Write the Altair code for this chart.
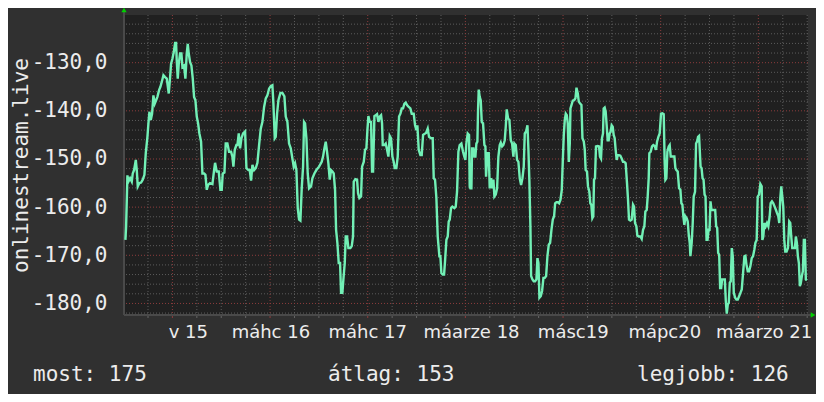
import altair as alt
import pandas as pd

# time in hours from 15 March 00:00, value (dBm-like)
hours = [-11.55,-11.38,-11.06,-10.81,-10.4,-9.99,-9.75,-9.42,-9.0,-8.76,-8.52,-8.11,-7.7,-7.29,-6.88,-6.55,-6.14,-5.9,-5.65,-5.32,-5.0,-4.67,-4.34,-4.01,-3.69,-3.28,-2.95,-2.62,-2.21,-1.8,-1.39,-0.9,-0.57,-0.33,0,0.33,0.66,0.9,1.06,1.31,1.56,1.88,2.21,2.46,2.87,3.19,3.52,3.77,4.01,4.34,4.67,5.0,5.32,5.65,5.98,6.31,6.63,7.04,7.37,7.78,8.11,8.44,8.76,9.25,9.83,10.24,10.48,10.89,11.38,11.79,12.12,12.37,12.78,13.1,13.51,13.92,14.41,14.74,14.99,15.32,15.72,
 15.97,16.3,16.63,16.96,17.37,17.86,18.19,18.68,19.0,19.33,19.66,20.07,20.48,20.89,21.3,21.71,22.12,22.53,22.94,23.34,23.75,24.16,24.57,24.82,25.15,25.39,25.72,26.05,26.54,27.03,27.52,27.85,28.26,28.67,29.08,29.49,29.81,30.14,30.47,30.8,31.13,31.45,31.78,32.11,32.35,32.6,32.93,33.25,33.58,34.07,34.4,34.89,35.38,36.04,36.69,37.02,37.35,37.68,38.0,38.33,38.66,38.99,39.32,39.64,39.97,40.22,40.54,40.87,41.2,41.44,41.77,42.02,42.35,42.59,42.92,43.25,43.74,44.07,44.39,
 44.56,44.97,45.38,45.62,45.95,46.36,46.61,47.02,47.34,47.67,47.92,48.16,48.49,48.82,49.06,49.31,49.64,49.97,50.29,50.62,50.95,51.28,51.52,51.69,52.1,52.42,52.75,53.08,53.41,53.73,54.06,54.39,54.63,55.04,55.37,55.7,56.03,56.35,56.68,57.01,57.34,57.66,58.07,58.48,58.81,59.3,59.63,59.96,60.2,60.53,60.94,61.27,61.6,61.92,62.33,62.74,63.07,63.56,63.97,64.22,64.54,64.87,65.2,65.61,65.85,66.1,66.43,66.76,67.0,67.33,67.66,67.9,68.15,68.48,68.8,69.29,69.62,69.95,70.28,70.6,71.01,71.42,71.75,72.0,72.24,72.57,72.9,73.06,
 73.23,73.48,73.64,73.97,74.21,74.46,74.7,74.95,75.11,75.28,75.52,75.77,76.02,76.34,76.67,76.92,77.08,77.41,77.74,77.98,78.31,78.56,78.89,79.13,79.46,79.79,80.11,80.44,80.69,81.02,81.34,81.67,81.92,82.16,82.49,82.82,83.15,83.48,83.8,84.05,84.38,84.7,85.03,85.36,85.69,86.02,86.34,86.59,86.92,87.25,87.49,87.74,87.98,88.15,88.48,88.8,89.13,89.46,89.7,89.95,90.2,90.52,90.85,91.18,91.51,91.84,92.16,92.49,92.82,93.15,93.48,93.8,94.05,94.38,94.7,95.03,95.36,95.69,95.93,96.18,96.43,96.67,96.92,97.16,97.41,97.66,97.82,98.07,98.39,98.72,99.05,99.3,99.62,99.87,100.2,100.52,100.77,101.1,101.34,
 101.56,101.89,102.13,102.46,102.7,102.95,103.2,103.44,103.61,103.85,104.1,104.51,104.84,105.08,105.33,105.57,105.82,105.98,106.23,106.48,106.72,106.97,107.21,107.46,107.7,107.95,108.2,108.44,108.69,108.93,109.18,109.43,109.75,110.08,110.41,110.74,111.07,111.39,111.72,111.97,112.21,112.54,112.87,113.2,113.44,113.69,114.02,114.26,114.59,115.0,115.33,115.66,115.98,116.23,116.56,116.8,117.05,117.21,117.54,117.87,118.2,118.52,118.85,119.1,119.43,119.75,120.08,120.41,120.74,120.98,121.15,121.39,121.64,121.97,122.21,122.46,122.79,123.11,123.36,123.61,123.85,124.18,124.51,124.84,125.08,125.33,125.57,125.82,126.07,126.39,126.64,126.89,127.13,127.3,127.62,127.87,128.11,128.44,128.69,128.93,129.18,129.43,
 129.8,130.04,130.29,130.53,130.78,131.02,131.27,131.51,131.76,132.0,132.24,132.49,132.73,133.06,133.39,133.63,133.88,134.12,134.37,134.61,134.86,135.1,135.43,135.76,136.0,136.24,136.49,136.73,136.98,137.22,137.47,137.71,137.96,138.29,138.61,138.94,139.27,139.59,139.92,140.24,140.57,140.82,141.06,141.39,141.71,142.04,142.37,142.69,143.02,143.27,143.59,143.84,144.16,144.49,144.82,144.98,145.22,145.47,145.8,146.12,146.45,146.78,147.02,147.35,147.67,148.0,148.33,148.57,148.9,149.14,149.39,149.63,149.88,150.12,150.37,150.61,150.94,151.27,151.59,151.84,152.08,152.33,152.65,152.98,153.22,153.47,153.71,153.96,154.2,154.45,154.69,154.94,155.18,155.43,155.67,155.92]

values = [-166.8,-164.0,-153.4,-154.7,-154.0,-154.7,-153.0,-152.3,-150.2,-152.3,-155.7,-155.0,-154.9,-154.3,-153.3,-148.8,-145.4,-142.6,-140.2,-141.9,-140.6,-136.8,-138.5,-137.8,-137.1,-135.7,-135.0,-134.0,-132.6,-133.0,-133.3,-136.4,-133.0,-130.2,-129.2,-127.8,-125.9,-125.9,-129.5,-133.3,-130.2,-128.1,-128.1,-130.9,-130.6,-133.3,-128.1,-126.1,-128.1,-129.9,-130.6,-133.3,-137.1,-137.8,-141.2,-142.6,-144.7,-146.4,-153.0,-153.0,-153.3,-156.4,-155.4,-155.0,-155.2,-152.3,-150.8,-152.6,-152.6,-156.4,-156.4,-153.0,-152.8,-146.8,-146.8,-148.5,-148.5,-149.5,-151.6,-148.1,-147.1,
 -147.1,-144.7,-147.8,-145.7,-144.7,-144.3,-151.9,-152.3,-152.3,-154.5,-151.2,-152.3,-151.9,-150.8,-147.1,-143.7,-142.3,-139.2,-137.4,-136.8,-135.4,-134.9,-134.7,-138.5,-145.7,-145.4,-140.6,-137.8,-136.3,-136.3,-137.0,-141.2,-142.3,-146.8,-147.8,-149.9,-151.6,-150.9,-152.3,-160.2,-162.6,-162.8,-156.1,-151.6,-142.3,-142.6,-145.7,-153.0,-156.1,-155.7,-154.0,-153.0,-152.3,-151.6,-150.6,-149.5,-147.8,-146.4,-148.5,-150.9,-154.3,-152.3,-152.6,-153.0,-156.4,-164.7,-167.4,-171.6,-171.6,-177.8,-177.8,-175.0,-171.6,-166.1,-166.1,-168.5,-168.5,-168.1,-166.1,
 -154.7,-154.2,-154.3,-157.1,-158.1,-157.8,-151.6,-150.6,-148.1,-147.8,-144.0,-141.1,-142.3,-142.3,-152.6,-152.6,-141.1,-140.9,-140.7,-142.3,-141.2,-140.9,-142.6,-147.1,-147.1,-146.8,-148.1,-149.5,-145.2,-145.7,-149.5,-150.6,-151.9,-151.9,-149.5,-141.2,-140.6,-139.5,-139.5,-138.5,-138.3,-138.8,-139.2,-139.5,-140.6,-140.6,-143.0,-144.0,-143.0,-148.1,-149.2,-149.2,-145.0,-144.8,-144.6,-143.7,-145.4,-145.7,-145.7,-154.0,-154.3,-158.1,-166.1,-170.2,-170.2,-173.7,-174.0,-174.0,-171.2,-166.8,-166.1,-163.0,-162.6,-160.2,-159.9,-160.2,-159.9,-156.8,-148.5,-147.1,-146.8,-148.5,-149.5,-150.2,-146.8,-144.7,-145.0,-155.7,
 -156.1,-156.1,-147.8,-147.8,-149.5,-149.5,-146.8,-146.4,-139.9,-135.6,-137.1,-137.8,-142.3,-142.6,-147.1,-147.4,-153.7,-148.8,-148.8,-156.1,-154.0,-156.1,-154.3,-157.8,-157.4,-156.1,-149.5,-147.1,-146.6,-147.4,-147.1,-146.1,-143.3,-139.7,-141.6,-141.9,-146.1,-146.8,-149.5,-146.8,-147.1,-150.2,-150.6,-154.0,-155.4,-154.0,-151.6,-144.7,-144.3,-143.0,-148.1,-155.0,-164.0,-174.3,-175.0,-175.4,-175.4,-175.0,-170.6,-171.6,-178.8,-178.5,-177.4,-174.7,-174.7,-174.3,-170.2,-167.8,-167.4,-164.7,-162.6,-161.9,-159.2,-159.0,-159.0,-159.2,-158.5,-156.4,-150.6,-145.0,-141.9,-140.6,-140.9,-142.6,-150.6,-146.8,-139.5,-138.8,-137.9,-137.8,-137.4,-135.2,-136.4,-138.1,-138.5,-138.8,-145.7,-146.4,-148.1,
 -152.3,-152.6,-155.7,-156.8,-159.2,-159.5,-162.3,-161.9,-154.3,-154.0,-147.4,-147.3,-147.4,-149.5,-149.9,-145.7,-144.7,-139.5,-139.3,-140.2,-143.0,-146.1,-146.1,-144.7,-144.3,-143.0,-143.3,-145.0,-145.7,-148.1,-150.2,-149.2,-149.2,-149.3,-149.9,-150.6,-150.6,-150.9,-155.0,-158.5,-162.6,-162.8,-162.6,-159.5,-159.9,-163.3,-164.0,-165.9,-166.1,-166.1,-166.6,-164.7,-164.0,-160.9,-160.6,-157.8,-154.0,-148.8,-148.5,-147.4,-147.1,-147.3,-148.1,-146.4,-145.4,-144.7,-140.6,-140.5,-140.7,-150.9,-154.3,-154.0,-148.5,-147.4,-147.1,-149.5,-149.5,-149.5,-149.5,-151.9,-152.3,-152.6,-156.1,-156.4,-159.2,-159.5,-161.9,-163.7,-161.9,-162.3,-163.0,-165.7,-167.4,-170.2,-167.4,-163.3,-157.8,-156.8,-146.8,-146.4,-145.4,-145.2,
 -151.6,-151.9,-154.0,-154.3,-157.4,-157.8,-166.8,-166.8,-164.7,-164.7,-158.8,-160.6,-160.6,-160.6,-160.6,-164.0,-164.3,-169.5,-169.9,-176.8,-176.8,-175.0,-175.0,-175.0,-179.5,-182.1,-180.2,-179.9,-175.7,-175.4,-168.5,-170.2,-177.8,-178.8,-179.2,-179.2,-178.5,-177.8,-177.1,-173.7,-170.2,-170.1,-171.9,-173.3,-173.3,-172.3,-170.6,-170.2,-168.8,-167.4,-166.8,-157.8,-157.4,-155.2,-155.7,-166.8,-166.1,-163.3,-164.0,-163.3,-164.0,-161.9,-159.2,-158.8,-159.2,-159.9,-160.6,-161.2,-161.9,-163.3,-158.1,-155.7,-157.8,-159.9,-166.8,-169.2,-169.2,-168.5,-163.0,-163.3,-166.1,-168.5,-168.5,-168.5,-166.1,-167.4,-170.2,-171.6,-176.4,-175.7,-174.3,-173.3,-166.8,-166.8,-175.0,-175.2]

x_label_hours = [3.9, 24.2, 48.0, 73.5, 98.5, 121.0, 145.4]
x_label_text = ["v 15", "máhc 16", "máhc 17", "máarze 18", "másc19", "mápc20", "máarzo 21"]
y_tick_values = [-130, -140, -150, -160, -170, -180]
footer_text = ["most: 175", "átlag: 153", "legjobb: 126"]

W, H = 684, 300
BG = "#303030"
PLOT_BG = "#202020"
LINE = "#72f0b6"
TXT = "#ececec"
GRID = "#5c5c5c"
MAJOR = "#8c3c3c"
ARROW = "#00d000"

xs = alt.Scale(domain=[-11.9, 156.2], nice=False, zero=False)
ys = alt.Scale(domain=[-182.4, -120.1], nice=False, zero=False)

df = pd.DataFrame({"h": hours, "v": values})
minor_x = pd.DataFrame({"h": [h for h in range(-6, 157, 6) if h % 24 != 0]})
major_x = pd.DataFrame({"h": list(range(0, 157, 24))})
minor_y = pd.DataFrame({"v": [v for v in range(-182, -120, 2) if v % 10 != 0]})
major_y = pd.DataFrame({"v": y_tick_values})
xl = pd.DataFrame({"h": x_label_hours, "t": x_label_text})
one = pd.DataFrame({"a": [0]})

X = lambda: alt.X("h:Q", scale=xs, axis=None)

yaxis = alt.Axis(
    values=y_tick_values,
    labelExpr="'-' + toString(abs(datum.value)) + ',0'",
    labelFont="DejaVu Sans Mono", labelFontSize=21, labelColor=TXT, labelPadding=17,
    ticks=False, domain=False, grid=False,
    title="onlinestream.live", titleFont="DejaVu Sans Mono", titleFontSize=21,
    titleFontWeight="normal", titleColor=TXT, titleAngle=270, titleX=-97, titleY=150,
    titleAlign="center", titleBaseline="alphabetic",
)
Y = lambda: alt.Y("v:Q", scale=ys, axis=yaxis)

g1 = alt.Chart(minor_x).mark_rule(color=GRID, strokeDash=[1, 2], strokeWidth=1).encode(x=X())
g2 = alt.Chart(minor_y).mark_rule(color=GRID, strokeDash=[1, 2], strokeWidth=1).encode(y=Y())
g3 = alt.Chart(major_x).mark_rule(color=MAJOR, strokeDash=[1, 2], strokeWidth=1).encode(x=X())
g4 = alt.Chart(major_y).mark_rule(color=MAJOR, strokeDash=[1, 2], strokeWidth=1).encode(y=Y())

tick_minor = alt.Chart(minor_x).mark_rule(color="#666666").encode(x=X(), y=alt.value(H), y2=alt.value(H + 3))
tick_major = alt.Chart(major_x).mark_rule(color=MAJOR).encode(x=X(), y=alt.value(H), y2=alt.value(H + 3))

line = alt.Chart(df).mark_line(color=LINE, strokeWidth=2.4, clip=True).encode(x=X(), y=Y())

axis_left = alt.Chart(one).mark_rule(color="#4a4a4a", strokeWidth=2).encode(
    x=alt.value(0), y=alt.value(-4), y2=alt.value(H))
axis_bottom = alt.Chart(one).mark_rule(color="#4a4a4a", strokeWidth=2).encode(
    x=alt.value(0), x2=alt.value(W + 4), y=alt.value(H))
arrow_up = alt.Chart(one).mark_point(shape="triangle-up", filled=True, color=ARROW, size=28, opacity=1).encode(
    x=alt.value(0), y=alt.value(-5))
arrow_right = alt.Chart(one).mark_point(shape="triangle-right", filled=True, color=ARROW, size=28, opacity=1).encode(
    x=alt.value(W + 5), y=alt.value(H))

xlabels = alt.Chart(xl).mark_text(font="DejaVu Sans", fontSize=18, color=TXT, align="center",
                                  baseline="alphabetic").encode(x=X(), y=alt.value(323), text="t:N")

def foot(txt, xpos):
    return alt.Chart(pd.DataFrame({"t": [txt]})).mark_text(
        font="DejaVu Sans Mono", fontSize=21, color=TXT, align="left", baseline="alphabetic"
    ).encode(x=alt.value(xpos), y=alt.value(366), text="t:N")

f1 = foot(footer_text[0], -91)
f2 = foot(footer_text[1], 204)
f3 = foot(footer_text[2], 513)

chart = alt.layer(
    g1, g2, g3, g4, tick_minor, tick_major, axis_left, axis_bottom, line,
    arrow_up, arrow_right, xlabels, f1, f2, f3
).properties(
    width=W, height=H, background=BG,
    padding={"left": 116, "top": 7, "right": 8, "bottom": 79},
    autosize=alt.AutoSizeParams(type="none"),
).configure_view(fill=PLOT_BG, strokeWidth=0)

chart.save("out.html", embed_options={"renderer": "svg", "actions": False})
